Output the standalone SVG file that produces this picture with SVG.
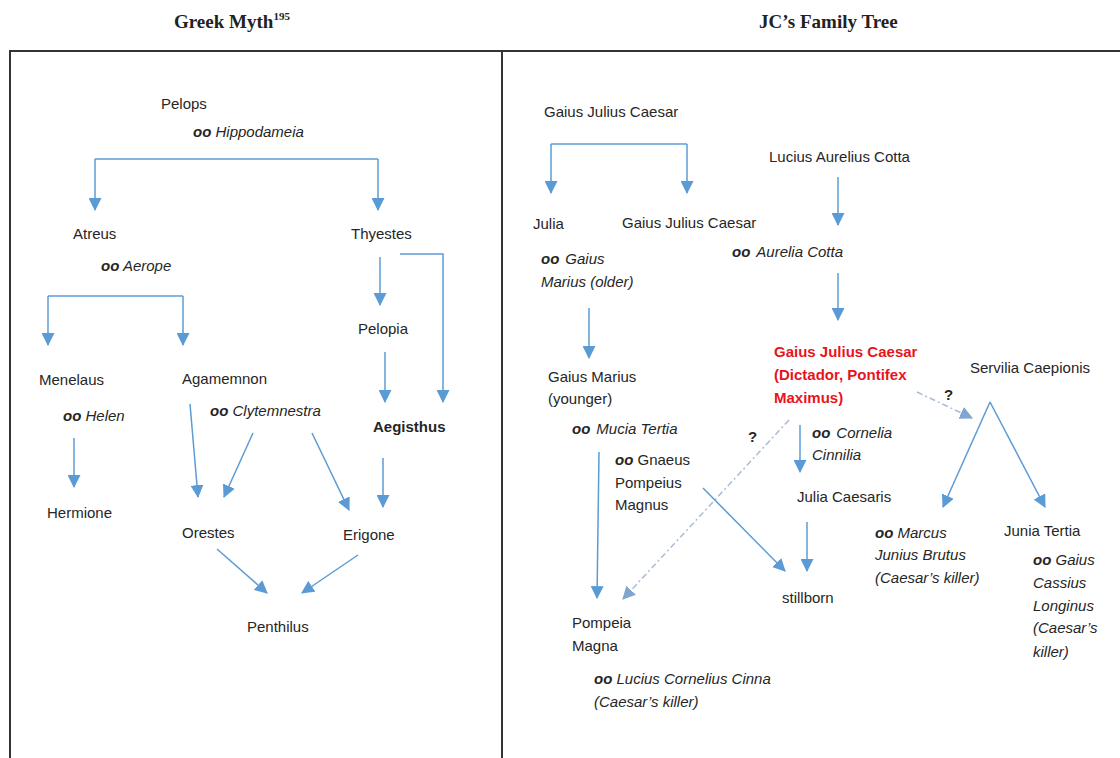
<svg xmlns="http://www.w3.org/2000/svg" width="1120" height="758" viewBox="0 0 1120 758">
<defs>
<marker id="ah" markerUnits="userSpaceOnUse" markerWidth="13" markerHeight="13" viewBox="0 0 12 12" refX="11" refY="6" orient="auto">
<path d="M0,0 L12,6 L0,12 Z" fill="#5b9bd5"/>
</marker>
<marker id="ahd" markerUnits="userSpaceOnUse" markerWidth="13" markerHeight="13" viewBox="0 0 12 12" refX="11" refY="6" orient="auto">
<path d="M0,0 L12,6 L0,12 Z" fill="#7fa6cf"/>
</marker>
<style>
text{font-family:"Liberation Sans",Arial,sans-serif;font-size:15px;fill:#262626}
.h{font-family:"Liberation Serif","Times New Roman",serif;font-weight:bold;font-size:19px;fill:#222}
.i{font-style:italic}
.o{font-weight:bold;font-style:italic}
.b{font-weight:bold}
.r{fill:#e8141c;font-weight:bold}
.c{fill:none;stroke:#5b9bd5;stroke-width:1.5;marker-end:url(#ah)}
.n{fill:none;stroke:#5b9bd5;stroke-width:1.5}
.d{fill:none;stroke:#a9bcd6;stroke-width:1.5;stroke-dasharray:6 3 2 3;marker-end:url(#ahd)}
.f{stroke:#333;stroke-width:2;fill:none}
</style>
</defs>
<rect width="1120" height="758" fill="#fff"/>
<g id="frame">
<text class="h" x="174" y="28">Greek Myth<tspan font-size="11" dy="-8">195</tspan></text>
<text class="h" x="759" y="28">JC’s Family Tree</text>
<path class="f" d="M10,758 V51 H1120 M502,51 V758"/>
</g>
<g id="connectors">
<path class="n" d="M95,159 H378"/>
<path class="c" d="M95,159 V210"/>
<path class="c" d="M378,159 V210"/>
<path class="n" d="M48,296 H183"/>
<path class="c" d="M48,296 V345"/>
<path class="c" d="M183,296 V345"/>
<path class="c" d="M380,257 V305"/>
<path class="c" d="M400,254 H443 V402"/>
<path class="c" d="M385,352 V402"/>
<path class="c" d="M74,438 V487"/>
<path class="c" d="M190,404 L198,497"/>
<path class="c" d="M253,433 L224,497"/>
<path class="c" d="M312,433 L349,510"/>
<path class="c" d="M383,458 V507"/>
<path class="c" d="M217,549 L267,593"/>
<path class="c" d="M358,555 L302,593"/>
<path class="n" d="M551,144 H687"/>
<path class="c" d="M551,144 V193"/>
<path class="c" d="M687,144 V193"/>
<path class="c" d="M838,177 V225"/>
<path class="c" d="M838,273 V320"/>
<path class="c" d="M589,308 V358"/>
<path class="c" d="M599,452 L597,598"/>
<path class="d" d="M789,420 L623,599"/>
<path class="c" d="M800,425 V472"/>
<path class="c" d="M703,488 L785,571"/>
<path class="c" d="M807,522 V571"/>
<path class="d" d="M917,392 L972,418"/>
<path class="c" d="M990,402 L943,507"/>
<path class="c" d="M990,402 L1045,507"/>
</g>
<g id="pelops"><text x="161" y="109">Pelops</text><text x="193" y="137" class="i"><tspan class="o">oo</tspan> Hippodameia</text></g>
<g id="atreus"><text x="73" y="239">Atreus</text><text x="101" y="271" class="i"><tspan class="o">oo</tspan> Aerope</text></g>
<g id="thyestes"><text x="351" y="239">Thyestes</text></g>
<g id="pelopia"><text x="358" y="334">Pelopia</text></g>
<g id="menelaus"><text x="39" y="385">Menelaus</text><text x="63" y="421" class="i"><tspan class="o">oo</tspan> Helen</text></g>
<g id="agamemnon"><text x="182" y="384">Agamemnon</text><text x="210" y="416" class="i"><tspan class="o">oo</tspan> Clytemnestra</text></g>
<g id="aegisthus"><text x="373" y="432" class="b">Aegisthus</text></g>
<g id="hermione"><text x="47" y="518">Hermione</text></g>
<g id="orestes"><text x="182" y="538">Orestes</text></g>
<g id="erigone"><text x="343" y="540">Erigone</text></g>
<g id="penthilus"><text x="247" y="632">Penthilus</text></g>
<g id="gjc-elder"><text x="544" y="117">Gaius Julius Caesar</text></g>
<g id="lucius"><text x="769" y="162">Lucius Aurelius Cotta</text></g>
<g id="julia"><text x="533" y="229">Julia</text><text x="541" y="264" class="i"><tspan class="o">oo</tspan><tspan dx="6">Gaius</tspan></text><text x="541" y="287" class="i">Marius (older)</text></g>
<g id="gjc-father"><text x="622" y="228">Gaius Julius Caesar</text><text x="732" y="257" class="i"><tspan class="o">oo</tspan><tspan dx="6">Aurelia Cotta</tspan></text></g>
<g id="gaius-marius"><text x="548" y="382">Gaius Marius</text><text x="548" y="404">(younger)</text><text x="572" y="434" class="i"><tspan class="o">oo</tspan><tspan dx="6">Mucia Tertia</tspan></text></g>
<g id="pompeius"><text x="615" y="465"><tspan class="o">oo</tspan> Gnaeus</text><text x="615" y="488">Pompeius</text><text x="615" y="510">Magnus</text></g>
<g id="q1"><text x="748" y="442" class="b" font-size="13">?</text></g>
<g id="caesar"><text x="774" y="357" class="r">Gaius Julius Caesar</text><text x="774" y="380" class="r">(Dictador, Pontifex</text><text x="774" y="403" class="r">Maximus)</text></g>
<g id="cornelia"><text x="812" y="438" class="i"><tspan class="o">oo</tspan><tspan dx="6">Cornelia</tspan></text><text x="812" y="460" class="i">Cinnilia</text></g>
<g id="servilia"><text x="970" y="373">Servilia Caepionis</text></g>
<g id="q2"><text x="944" y="400" class="b" font-size="13">?</text></g>
<g id="julia-caesaris"><text x="797" y="502">Julia Caesaris</text></g>
<g id="stillborn"><text x="782" y="603">stillborn</text></g>
<g id="brutus"><text x="875" y="538" class="i"><tspan class="o">oo</tspan> Marcus</text><text x="875" y="560" class="i">Junius Brutus</text><text x="875" y="583" class="i">(Caesar’s killer)</text></g>
<g id="junia"><text x="1004" y="536">Junia Tertia</text><text x="1033" y="565" class="i"><tspan class="o">oo</tspan> Gaius</text><text x="1033" y="588" class="i">Cassius</text><text x="1033" y="611" class="i">Longinus</text><text x="1033" y="633" class="i">(Caesar’s</text><text x="1033" y="657" class="i">killer)</text></g>
<g id="pompeia"><text x="572" y="628">Pompeia</text><text x="572" y="651">Magna</text><text x="594" y="684" class="i"><tspan class="o">oo</tspan> Lucius Cornelius Cinna</text><text x="594" y="707" class="i">(Caesar’s killer)</text></g>
</svg>
